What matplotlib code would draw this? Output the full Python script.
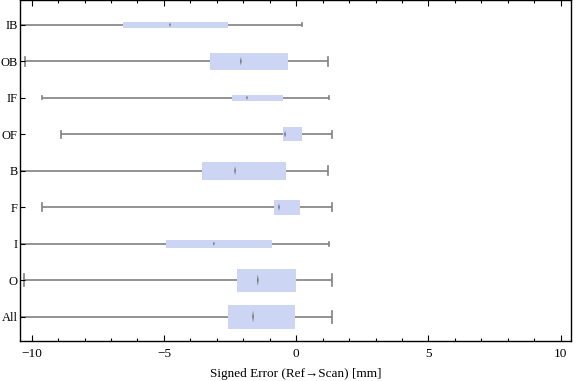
import numpy as np
import matplotlib
matplotlib.use("Agg")
import matplotlib.pyplot as plt
from matplotlib.patches import Rectangle
from matplotlib.ticker import MultipleLocator

# categories from bottom to top
labels = ['All', 'O', 'I', 'F', 'B', 'OF', 'IF', 'OB', 'IB']
whisker_lo = [-11.0, -10.29, -11.0, -9.60, -11.0, -8.88, -9.60, -10.27, -11.0]
q1 = [-2.58, -2.24, -4.92, -0.84, -3.56, -0.50, -2.43, -3.26, -6.55]
median = [-1.63, -1.45, -3.11, -0.65, -2.31, -0.42, -1.86, -2.09, -4.77]
q3 = [-0.05, -0.01, -0.91, 0.14, -0.39, 0.22, -0.50, -0.31, -2.58]
whisker_hi = [1.35, 1.35, 1.24, 1.35, 1.20, 1.35, 1.24, 1.20, 0.22]
box_width = [0.66, 0.63, 0.22, 0.41, 0.49, 0.38, 0.16, 0.47, 0.16]

box_color = '#cdd5f5'
line_color = '#808080'


def main():
    plt.rcParams['font.family'] = ['Liberation Serif', 'DejaVu Serif']
    fig = plt.figure(figsize=(5.76, 3.81), dpi=100)
    ax = fig.add_axes([0.0352, 0.105, 0.9561, 0.894])

    for i in range(len(labels)):
        w = box_width[i]
        # whisker line
        ax.plot([whisker_lo[i], whisker_hi[i]], [i, i], color=line_color, lw=1.2,
                solid_capstyle='butt', zorder=1)
        # caps
        for xc in (whisker_lo[i], whisker_hi[i]):
            ax.plot([xc, xc], [i - w / 4, i + w / 4], color=line_color, lw=1.2, zorder=1)
        # box
        ax.add_patch(Rectangle((q1[i], i - w / 2), q3[i] - q1[i], w,
                               facecolor=box_color, edgecolor='none', zorder=2))
        # median marker (thin lens shape)
        h = max(w / 4, 0.06)
        ax.fill([median[i], median[i] + 0.03, median[i], median[i] - 0.03],
                [i - h, i, i + h, i], color='#6a6a6a', lw=0, zorder=3)

    ax.set_xlim(-10.43, 10.39)
    ax.set_ylim(-0.67, 8.67)
    ax.set_yticks(range(len(labels)))
    ax.set_yticklabels(labels)
    ax.set_xticks([-10, -5, 0, 5, 10])
    ax.set_xticklabels(['\u221210', '\u22125', '0', '5', '10'])
    ax.xaxis.set_minor_locator(MultipleLocator(1))

    ax.tick_params(axis='x', which='both', direction='in', top=True, bottom=True,
                   labelsize=9.5, pad=5)
    ax.tick_params(axis='x', which='major', length=4.5, width=0.8)
    ax.tick_params(axis='x', which='minor', length=2.5, width=0.8)
    ax.tick_params(axis='y', direction='in', left=True, right=False,
                   length=3.5, width=0.8, labelsize=9, pad=2)

    for s in ax.spines.values():
        s.set_linewidth(1.0)
        s.set_color('black')

    ax.set_xlabel('Signed Error (Ref\u2192Scan) [mm]', fontsize=9.5, labelpad=6)

    fig.savefig('out.png', dpi=100)
    plt.close()


if __name__ == '__main__':
    main()
